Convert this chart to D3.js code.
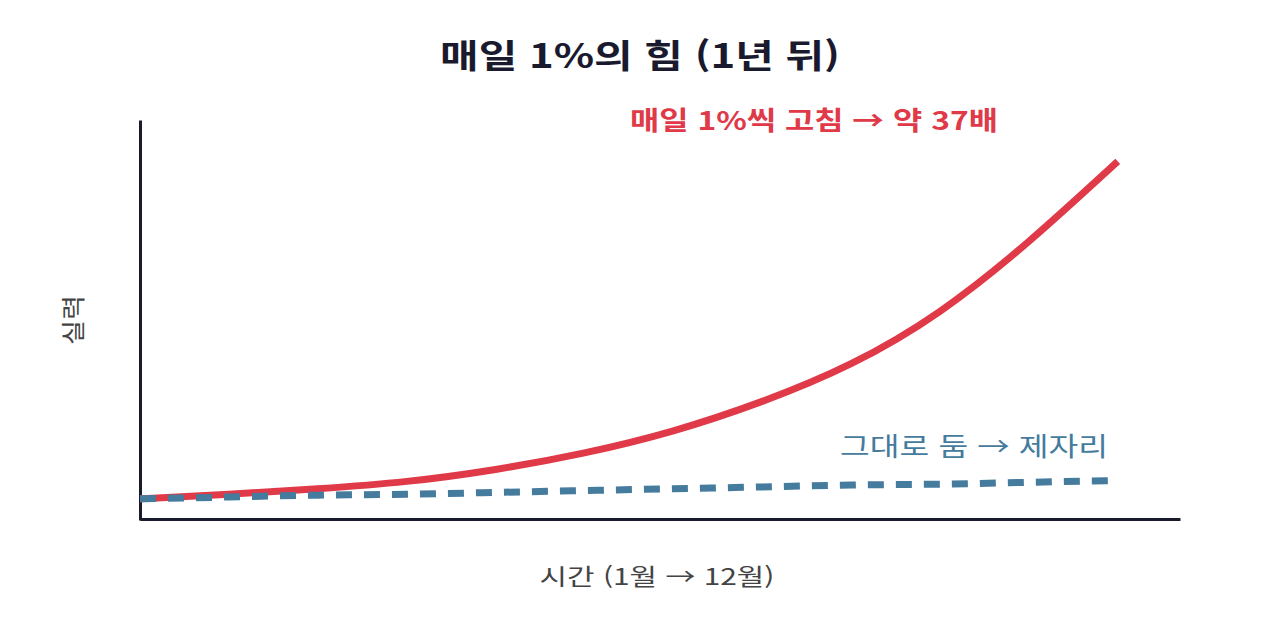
<!DOCTYPE html>
<html lang="ko">
<head>
<meta charset="utf-8">
<script src="https://cdn.jsdelivr.net/npm/d3@7"></script>
<style>
  html, body { margin: 0; padding: 0; background: #ffffff; }
  svg { display: block; }
  text { font-family: "Noto Sans CJK KR", "Noto Sans", sans-serif; }
</style>
</head>
<body>
<svg id="chart" width="1280" height="640"></svg>
<script>
// ---- data ----
const months = [1, 2, 3, 4, 5, 6, 7, 8, 9, 10, 11, 12];
const improveValues = [1.0, 1.5, 2.1, 2.9, 4.2, 6.0, 8.4, 11.6, 15.7, 21.4, 29.0, 37.7];
const stayValues = [1.0, 1.2, 1.4, 1.5, 1.7, 1.9, 2.1, 2.3, 2.5, 2.6, 2.8, 3.0];
const titleText = "매일 1%의 힘 (1년 뒤)";
const improveLabel = "매일 1%씩 고침 → 약 37배";
const stayLabel = "그대로 둠 → 제자리";
const xLabel = "시간 (1월 → 12월)";
const yLabel = "실력";

const svg = d3.select("#chart");

const x = d3.scaleLinear().domain([1, 12.7]).range([140, 1180]);
const y = d3.scaleLinear().domain([-1.3, 42.2]).range([520, 120]);

// axes (no ticks)
const axisColor = "#1a1a2e";
const gx = svg.append("g")
  .attr("transform", "translate(0,519)")
  .call(d3.axisBottom(x).tickValues([]).tickSizeOuter(0));
gx.select(".domain").attr("stroke", axisColor).attr("stroke-width", 3);

const gy = svg.append("g")
  .attr("transform", "translate(140,0)")
  .call(d3.axisLeft(y).tickValues([]).tickSizeOuter(0));
gy.select(".domain").attr("stroke", axisColor).attr("stroke-width", 3);

const line = d3.line()
  .x((d, i) => x(months[i]))
  .y(d => y(d))
  .curve(d3.curveNatural);

// red curve
svg.append("path")
  .datum(improveValues)
  .attr("d", line)
  .attr("fill", "none")
  .attr("stroke", "#e03a49")
  .attr("stroke-width", 7);

// blue dashed line
svg.append("path")
  .datum(stayValues)
  .attr("d", line)
  .attr("fill", "none")
  .attr("stroke", "#457b9d")
  .attr("stroke-width", 7)
  .attr("stroke-dasharray", "16,12");

// text helper: centred text, widened horizontally to a target width
function label(str, cx, cy, size, weight, color, width, rotate) {
  const t = svg.append("text")
    .attr("text-anchor", "middle")
    .attr("font-size", size)
    .attr("font-weight", weight)
    .attr("fill", color)
    .text(str);
  const natural = t.node().getComputedTextLength();
  const k = width / natural;
  t.attr("transform", `translate(${cx},${cy})${rotate ? " rotate(-90)" : ""} scale(${k},1)`);
  return t;
}

label(titleText, 640, 68, 33, "bold", "#1a1a2e", 400, false);
label(improveLabel, 814, 130, 26, "bold", "#e03a49", 368, false);
label(stayLabel, 974, 456, 26, 400, "#457b9d", 268, false);
label(xLabel, 657, 585, 23, 400, "#444444", 235, false);
label(yLabel, 82, 320, 24, 400, "#444444", 50, true);
</script>
</body>
</html>
